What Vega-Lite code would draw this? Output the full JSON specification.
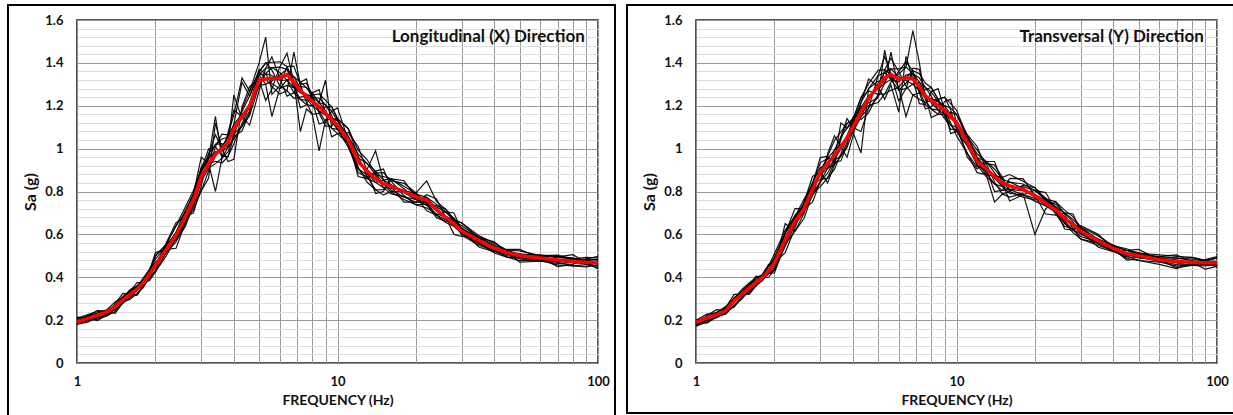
{
"$schema": "https://vega.github.io/schema/vega-lite/v6.json",
"padding": {"left": 6, "top": 3, "right": 0, "bottom": 0},
"background": "white",
"spacing": 8,
"config": {
  "font": "Lato",
  "view": {"stroke": "#1a1a1a", "strokeWidth": 1.5},
  "axis": {"labelFont": "Lato", "labelFontWeight": "bold", "labelFontSize": 13, "labelColor": "#111", "titleFont": "Lato", "titleFontWeight": "bold", "titleColor": "#111", "ticks": false, "domainColor": "#8a8a8a", "gridColor": "#9a9a9a", "gridOpacity": 1}
},
"datasets": {
"X": [
{"f":1,"m":0.19,"a":0.202,"b":0.184,"c":0.196,"d":0.196,"e":0.208,"g":0.181,"h":0.208,"i":0.19,"j":0.214,"k":0.178,"l":0.196,"n":0.184},
{"f":1.1,"m":0.208,"a":0.22,"b":0.196,"c":0.202,"d":0.22,"e":0.217,"g":0.19,"h":0.226,"i":0.199,"j":0.208,"k":0.22,"l":0.211,"n":0.205},
{"f":1.2,"m":0.222,"a":0.228,"b":0.21,"c":0.21,"d":0.234,"e":0.213,"g":0.213,"h":0.24,"i":0.204,"j":0.198,"k":0.246,"l":0.219,"n":0.225},
{"f":1.3,"m":0.238,"a":0.232,"b":0.232,"c":0.226,"d":0.244,"e":0.22,"g":0.247,"h":0.247,"i":0.22,"j":0.226,"k":0.238,"l":0.232,"n":0.244},
{"f":1.4,"m":0.262,"a":0.247,"b":0.27,"c":0.255,"d":0.255,"e":0.251,"g":0.285,"h":0.262,"i":0.24,"j":0.277,"k":0.232,"l":0.255,"n":0.27},
{"f":1.5,"m":0.295,"a":0.28,"b":0.31,"c":0.303,"d":0.28,"e":0.306,"g":0.306,"h":0.284,"i":0.284,"j":0.325,"k":0.28,"l":0.291,"n":0.299},
{"f":1.6,"m":0.32,"a":0.313,"b":0.335,"c":0.335,"d":0.305,"e":0.343,"g":0.309,"h":0.298,"i":0.32,"j":0.32,"k":0.335,"l":0.324,"n":0.316},
{"f":1.7,"m":0.345,"a":0.353,"b":0.353,"c":0.36,"d":0.338,"e":0.356,"g":0.323,"h":0.323,"i":0.356,"j":0.315,"k":0.375,"l":0.353,"n":0.338},
{"f":1.8,"m":0.375,"a":0.39,"b":0.368,"c":0.383,"d":0.383,"e":0.364,"g":0.364,"h":0.353,"i":0.398,"j":0.36,"k":0.375,"l":0.383,"n":0.368},
{"f":1.9,"m":0.415,"a":0.43,"b":0.4,"c":0.408,"d":0.43,"e":0.393,"g":0.426,"h":0.404,"i":0.438,"j":0.43,"k":0.385,"l":0.419,"n":0.411},
{"f":2,"m":0.455,"a":0.47,"b":0.425,"c":0.425,"d":0.485,"e":0.433,"g":0.5,"h":0.455,"i":0.5,"j":0.515,"k":0.425,"l":0.448,"n":0.463},
{"f":2.2,"m":0.53,"a":0.515,"b":0.515,"c":0.5,"d":0.545,"e":0.553,"g":0.553,"h":0.553,"i":0.553,"j":0.53,"k":0.56,"l":0.515,"n":0.545},
{"f":2.4,"m":0.595,"a":0.565,"b":0.61,"c":0.58,"d":0.58,"e":0.64,"g":0.573,"h":0.64,"i":0.595,"j":0.535,"k":0.655,"l":0.58,"n":0.61},
{"f":2.6,"m":0.68,"a":0.65,"b":0.71,"c":0.695,"d":0.65,"e":0.703,"g":0.635,"h":0.725,"i":0.658,"j":0.65,"k":0.68,"l":0.673,"n":0.688},
{"f":2.8,"m":0.76,"a":0.745,"b":0.79,"c":0.79,"d":0.73,"e":0.738,"g":0.738,"h":0.805,"i":0.715,"j":0.79,"k":0.7,"l":0.768,"n":0.753},
{"f":3,"m":0.87,"a":0.893,"b":0.893,"c":0.915,"d":0.848,"e":0.803,"g":0.904,"h":0.904,"i":0.803,"j":0.96,"k":0.825,"l":0.893,"n":0.848},
{"f":3.2,"m":0.93,"a":0.975,"b":0.908,"c":0.953,"d":0.953,"e":0.896,"g":0.998,"h":0.93,"i":0.863,"j":0.93,"k":0.975,"l":0.953,"n":0.908},
{"f":3.4,"m":0.975,"a":1.02,"b":0.93,"c":1.15,"d":1.02,"e":1.009,"g":1.009,"h":0.941,"i":1.12,"j":0.8,"k":1.065,"l":0.986,"n":0.964},
{"f":3.6,"m":1.0,"a":1.023,"b":0.955,"c":0.955,"d":1.045,"e":1.068,"g":0.966,"h":0.933,"i":1.0,"j":0.955,"k":1.0,"l":0.989,"n":1.011},
{"f":3.8,"m":1.03,"a":1.008,"b":1.008,"c":0.985,"d":1.053,"e":1.064,"g":0.963,"h":0.963,"i":1.064,"j":1.075,"k":0.94,"l":1.008,"n":1.053},
{"f":4,"m":1.09,"a":1.045,"b":1.113,"c":1.068,"d":1.068,"e":1.056,"g":1.056,"h":1.023,"i":1.158,"j":1.18,"k":0.95,"l":1.25,"n":1.113},
{"f":4.3,"m":1.15,"a":1.105,"b":1.31,"c":1.173,"d":1.105,"e":1.083,"g":1.184,"h":1.116,"i":1.33,"j":1.15,"k":1.195,"l":1.139,"n":1.161},
{"f":4.6,"m":1.2,"a":1.178,"b":1.245,"c":1.245,"d":1.155,"e":1.166,"g":1.268,"h":1.2,"i":1.268,"j":1.11,"k":1.29,"l":1.211,"n":1.189},
{"f":5,"m":1.32,"a":1.345,"b":1.345,"c":1.37,"d":1.295,"e":1.358,"g":1.4,"h":1.358,"i":1.358,"j":1.27,"k":1.32,"l":1.345,"n":1.295},
{"f":5.3,"m":1.325,"a":1.375,"b":1.3,"c":1.35,"d":1.35,"e":1.4,"g":1.52,"h":1.4,"i":1.325,"j":1.375,"k":1.225,"l":1.35,"n":1.3},
{"f":5.6,"m":1.328,"a":1.378,"b":1.15,"c":1.303,"d":1.378,"e":1.366,"g":1.253,"h":1.403,"i":1.29,"j":1.428,"k":1.278,"l":1.341,"n":1.316},
{"f":6,"m":1.33,"a":1.355,"b":1.28,"c":1.28,"d":1.38,"e":1.293,"g":1.293,"h":1.405,"i":1.255,"j":1.33,"k":1.38,"l":1.318,"n":1.343},
{"f":6.4,"m":1.345,"a":1.32,"b":1.32,"c":1.295,"d":1.37,"e":1.27,"g":1.383,"h":1.383,"i":1.27,"j":1.245,"k":1.445,"l":1.32,"n":1.37},
{"f":6.8,"m":1.31,"a":1.26,"b":1.335,"c":1.285,"d":1.285,"e":1.45,"g":1.385,"h":1.31,"i":1.235,"j":1.26,"k":1.31,"l":1.285,"n":1.335},
{"f":7.2,"m":1.27,"a":1.23,"b":1.31,"c":1.29,"d":1.23,"e":1.3,"g":1.3,"h":1.08,"i":1.24,"j":1.31,"k":1.19,"l":1.26,"n":1.28},
{"f":7.6,"m":1.245,"a":1.225,"b":1.285,"c":1.285,"d":1.205,"e":1.305,"g":1.215,"h":1.185,"i":1.245,"j":1.325,"k":1.205,"l":1.255,"n":1.235},
{"f":8,"m":1.22,"a":1.24,"b":1.24,"c":1.26,"d":1.2,"e":1.25,"g":1.16,"h":1.16,"i":1.25,"j":1.22,"k":1.26,"l":1.24,"n":1.2},
{"f":8.5,"m":1.195,"a":1.235,"b":1.175,"c":1.215,"d":1.215,"e":1.165,"g":1.165,"h":0.99,"i":1.255,"j":1.115,"k":1.275,"l":1.215,"n":1.175},
{"f":9,"m":1.165,"a":1.205,"b":1.125,"c":1.32,"d":1.205,"e":1.105,"g":1.195,"h":1.135,"i":1.225,"j":1.125,"k":1.165,"l":1.175,"n":1.155},
{"f":9.5,"m":1.135,"a":1.155,"b":1.095,"c":1.095,"d":1.175,"e":1.105,"g":1.195,"h":1.135,"i":1.195,"j":1.175,"k":1.055,"l":1.125,"n":1.145},
{"f":10,"m":1.11,"a":1.09,"b":1.09,"c":1.07,"d":1.13,"e":1.14,"g":1.14,"h":1.14,"i":1.14,"j":1.19,"k":1.07,"l":1.09,"n":1.13},
{"f":11,"m":1.04,"a":1.005,"b":1.058,"c":1.023,"d":1.023,"e":1.093,"g":1.014,"h":1.093,"i":1.04,"j":1.04,"k":1.075,"l":1.023,"n":1.058},
{"f":12,"m":0.94,"a":0.905,"b":0.975,"c":0.958,"d":0.905,"e":0.966,"g":0.888,"h":0.993,"i":0.914,"j":0.87,"k":1.01,"l":0.931,"n":0.949},
{"f":13,"m":0.895,"a":0.878,"b":0.93,"c":0.93,"d":0.86,"e":0.869,"g":0.869,"h":0.948,"i":0.843,"j":0.86,"k":0.895,"l":0.904,"n":0.886},
{"f":14,"m":0.86,"a":0.878,"b":0.878,"c":0.895,"d":0.843,"e":0.808,"g":0.886,"h":0.886,"i":0.808,"j":0.895,"k":0.79,"l":0.99,"n":0.843},
{"f":15,"m":0.835,"a":0.87,"b":0.818,"c":0.853,"d":0.853,"e":0.809,"g":0.888,"h":0.835,"i":0.783,"j":0.905,"k":0.8,"l":0.853,"n":0.818},
{"f":16,"m":0.825,"a":0.86,"b":0.79,"c":0.808,"d":0.86,"e":0.851,"g":0.851,"h":0.799,"i":0.799,"j":0.825,"k":0.86,"l":0.834,"n":0.816},
{"f":18,"m":0.8,"a":0.813,"b":0.775,"c":0.775,"d":0.825,"e":0.838,"g":0.781,"h":0.763,"i":0.8,"j":0.75,"k":0.85,"l":0.794,"n":0.806},
{"f":20,"m":0.775,"a":0.763,"b":0.763,"c":0.75,"d":0.788,"e":0.794,"g":0.738,"h":0.738,"i":0.794,"j":0.75,"k":0.775,"l":0.763,"n":0.788},
{"f":22,"m":0.76,"a":0.735,"b":0.773,"c":0.748,"d":0.748,"e":0.741,"g":0.741,"h":0.723,"i":0.85,"j":0.785,"k":0.71,"l":0.748,"n":0.773},
{"f":24,"m":0.715,"a":0.69,"b":0.74,"c":0.728,"d":0.69,"e":0.678,"g":0.734,"h":0.696,"i":0.753,"j":0.765,"k":0.69,"l":0.709,"n":0.721},
{"f":26,"m":0.68,"a":0.668,"b":0.705,"c":0.705,"d":0.655,"e":0.661,"g":0.718,"h":0.68,"i":0.718,"j":0.68,"k":0.705,"l":0.686,"n":0.674},
{"f":28,"m":0.65,"a":0.663,"b":0.663,"c":0.675,"d":0.638,"e":0.669,"g":0.669,"h":0.669,"i":0.669,"j":0.6,"k":0.7,"l":0.663,"n":0.638},
{"f":30,"m":0.615,"a":0.64,"b":0.603,"c":0.628,"d":0.628,"e":0.653,"g":0.596,"h":0.653,"i":0.615,"j":0.59,"k":0.615,"l":0.628,"n":0.603},
{"f":35,"m":0.57,"a":0.585,"b":0.555,"c":0.563,"d":0.585,"e":0.581,"g":0.548,"h":0.593,"i":0.559,"j":0.585,"k":0.54,"l":0.574,"n":0.566},
{"f":40,"m":0.535,"a":0.543,"b":0.52,"c":0.52,"d":0.55,"e":0.524,"g":0.524,"h":0.558,"i":0.513,"j":0.565,"k":0.52,"l":0.531,"n":0.539},
{"f":45,"m":0.515,"a":0.508,"b":0.508,"c":0.5,"d":0.523,"e":0.493,"g":0.526,"h":0.526,"i":0.493,"j":0.515,"k":0.53,"l":0.508,"n":0.523},
{"f":50,"m":0.5,"a":0.485,"b":0.508,"c":0.493,"d":0.493,"e":0.489,"g":0.523,"h":0.5,"i":0.478,"j":0.47,"k":0.53,"l":0.493,"n":0.508},
{"f":60,"m":0.49,"a":0.475,"b":0.505,"c":0.498,"d":0.475,"e":0.501,"g":0.501,"h":0.479,"i":0.479,"j":0.475,"k":0.49,"l":0.486,"n":0.494},
{"f":70,"m":0.48,"a":0.473,"b":0.495,"c":0.495,"d":0.465,"e":0.503,"g":0.469,"h":0.458,"i":0.48,"j":0.495,"k":0.45,"l":0.484,"n":0.476},
{"f":80,"m":0.475,"a":0.483,"b":0.483,"c":0.49,"d":0.468,"e":0.486,"g":0.453,"h":0.453,"i":0.486,"j":0.505,"k":0.46,"l":0.483,"n":0.468},
{"f":90,"m":0.47,"a":0.485,"b":0.463,"c":0.478,"d":0.478,"e":0.459,"g":0.459,"h":0.448,"i":0.493,"j":0.47,"k":0.485,"l":0.478,"n":0.463},
{"f":100,"m":0.468,"a":0.483,"b":0.453,"c":0.461,"d":0.483,"e":0.446,"g":0.479,"h":0.457,"i":0.491,"j":0.438,"k":0.498,"l":0.472,"n":0.464}
],
"Y": [
{"f":1,"m":0.19,"a":0.184,"b":0.184,"c":0.178,"d":0.196,"e":0.172,"g":0.199,"h":0.199,"i":0.172,"j":0.178,"k":0.19,"l":0.184,"n":0.196},
{"f":1.1,"m":0.21,"a":0.198,"b":0.216,"c":0.204,"d":0.204,"e":0.201,"g":0.228,"h":0.21,"i":0.192,"j":0.222,"k":0.186,"l":0.204,"n":0.216},
{"f":1.2,"m":0.225,"a":0.213,"b":0.237,"c":0.231,"d":0.213,"e":0.234,"g":0.234,"h":0.216,"i":0.216,"j":0.249,"k":0.213,"l":0.222,"n":0.228},
{"f":1.3,"m":0.245,"a":0.239,"b":0.257,"c":0.257,"d":0.233,"e":0.263,"g":0.236,"h":0.227,"i":0.245,"j":0.245,"k":0.257,"l":0.248,"n":0.242},
{"f":1.4,"m":0.29,"a":0.298,"b":0.298,"c":0.305,"d":0.283,"e":0.301,"g":0.268,"h":0.268,"i":0.301,"j":0.26,"k":0.32,"l":0.298,"n":0.283},
{"f":1.5,"m":0.32,"a":0.335,"b":0.313,"c":0.328,"d":0.328,"e":0.309,"g":0.309,"h":0.298,"i":0.343,"j":0.305,"k":0.32,"l":0.328,"n":0.313},
{"f":1.6,"m":0.35,"a":0.365,"b":0.335,"c":0.343,"d":0.365,"e":0.328,"g":0.361,"h":0.339,"i":0.373,"j":0.365,"k":0.32,"l":0.354,"n":0.346},
{"f":1.7,"m":0.375,"a":0.383,"b":0.36,"c":0.36,"d":0.39,"e":0.364,"g":0.398,"h":0.375,"i":0.398,"j":0.405,"k":0.36,"l":0.371,"n":0.379},
{"f":1.8,"m":0.4,"a":0.393,"b":0.393,"c":0.385,"d":0.408,"e":0.411,"g":0.411,"h":0.411,"i":0.411,"j":0.4,"k":0.415,"l":0.393,"n":0.408},
{"f":1.9,"m":0.43,"a":0.415,"b":0.438,"c":0.423,"d":0.423,"e":0.453,"g":0.419,"h":0.453,"i":0.43,"j":0.4,"k":0.46,"l":0.423,"n":0.438},
{"f":2,"m":0.465,"a":0.435,"b":0.495,"c":0.48,"d":0.435,"e":0.488,"g":0.42,"h":0.51,"i":0.443,"j":0.435,"k":0.465,"l":0.458,"n":0.473},
{"f":2.2,"m":0.575,"a":0.56,"b":0.605,"c":0.605,"d":0.545,"e":0.553,"g":0.553,"h":0.62,"i":0.65,"j":0.605,"k":0.515,"l":0.583,"n":0.568},
{"f":2.4,"m":0.66,"a":0.675,"b":0.675,"c":0.69,"d":0.645,"e":0.615,"g":0.683,"h":0.683,"i":0.615,"j":0.72,"k":0.63,"l":0.675,"n":0.645},
{"f":2.6,"m":0.72,"a":0.75,"b":0.705,"c":0.735,"d":0.735,"e":0.698,"g":0.765,"h":0.72,"i":0.675,"j":0.72,"k":0.75,"l":0.735,"n":0.705},
{"f":2.8,"m":0.81,"a":0.84,"b":0.78,"c":0.795,"d":0.84,"e":0.833,"g":0.833,"h":0.788,"i":0.788,"j":0.75,"k":0.87,"l":0.818,"n":0.803},
{"f":3,"m":0.89,"a":0.913,"b":0.845,"c":0.845,"d":0.935,"e":0.958,"g":0.856,"h":0.823,"i":0.89,"j":0.845,"k":0.89,"l":0.879,"n":0.901},
{"f":3.2,"m":0.93,"a":0.908,"b":0.908,"c":0.885,"d":0.953,"e":0.964,"g":0.863,"h":0.863,"i":0.964,"j":0.975,"k":0.84,"l":0.908,"n":0.953},
{"f":3.4,"m":0.97,"a":0.925,"b":0.993,"c":0.948,"d":0.948,"e":0.936,"g":0.936,"h":0.903,"i":1.038,"j":1.06,"k":0.925,"l":0.948,"n":0.993},
{"f":3.6,"m":1.01,"a":0.965,"b":1.055,"c":1.12,"d":0.965,"e":0.943,"g":1.044,"h":0.976,"i":1.078,"j":1.01,"k":1.055,"l":0.999,"n":1.021},
{"f":3.8,"m":1.05,"a":1.028,"b":1.095,"c":1.095,"d":1.005,"e":1.016,"g":1.118,"h":1.05,"i":1.118,"j":0.96,"k":1.14,"l":1.061,"n":1.039},
{"f":4,"m":1.1,"a":1.123,"b":1.123,"c":1.145,"d":1.078,"e":1.134,"g":1.134,"h":1.134,"i":1.134,"j":1.055,"k":1.1,"l":1.123,"n":1.078},
{"f":4.3,"m":1.17,"a":1.215,"b":1.148,"c":1.193,"d":0.98,"e":1.238,"g":1.136,"h":1.238,"i":1.17,"j":1.215,"k":1.08,"l":1.193,"n":1.148},
{"f":4.6,"m":1.235,"a":1.28,"b":1.19,"c":1.213,"d":1.28,"e":1.269,"g":1.168,"h":1.303,"i":1.201,"j":1.325,"k":1.19,"l":1.246,"n":1.224},
{"f":5,"m":1.29,"a":1.315,"b":1.24,"c":1.24,"d":1.34,"e":1.253,"g":1.253,"h":1.365,"i":1.215,"j":1.29,"k":1.34,"l":1.278,"n":1.303},
{"f":5.3,"m":1.33,"a":1.305,"b":1.305,"c":1.46,"d":1.355,"e":1.255,"g":1.368,"h":1.368,"i":1.255,"j":1.23,"k":1.43,"l":1.305,"n":1.355},
{"f":5.6,"m":1.347,"a":1.45,"b":1.372,"c":1.322,"d":1.322,"e":1.31,"g":1.422,"h":1.347,"i":1.272,"j":1.297,"k":1.347,"l":1.322,"n":1.372},
{"f":6,"m":1.323,"a":1.273,"b":1.373,"c":1.348,"d":1.273,"e":1.36,"g":1.36,"h":1.286,"i":1.286,"j":1.17,"k":1.223,"l":1.31,"n":1.335},
{"f":6.4,"m":1.33,"a":1.305,"b":1.38,"c":1.38,"d":1.28,"e":1.405,"g":1.293,"h":1.15,"i":1.33,"j":1.43,"k":1.28,"l":1.343,"n":1.318},
{"f":6.8,"m":1.325,"a":1.35,"b":1.35,"c":1.55,"d":1.3,"e":1.363,"g":1.25,"h":1.25,"i":1.363,"j":1.325,"k":1.375,"l":1.35,"n":1.3},
{"f":7.2,"m":1.29,"a":1.33,"b":1.27,"c":1.4,"d":1.31,"e":1.26,"g":1.26,"h":1.23,"i":1.35,"j":1.21,"k":1.37,"l":1.31,"n":1.27},
{"f":7.6,"m":1.245,"a":1.285,"b":1.205,"c":1.225,"d":1.285,"e":1.185,"g":1.275,"h":1.215,"i":1.305,"j":1.205,"k":1.245,"l":1.255,"n":1.235},
{"f":8,"m":1.225,"a":1.245,"b":1.185,"c":1.185,"d":1.265,"e":1.195,"g":1.285,"h":1.225,"i":1.285,"j":1.265,"k":1.145,"l":1.215,"n":1.235},
{"f":8.5,"m":1.2,"a":1.18,"b":1.18,"c":1.16,"d":1.22,"e":1.23,"g":1.23,"h":1.23,"i":1.23,"j":1.28,"k":1.16,"l":1.18,"n":1.22},
{"f":9,"m":1.18,"a":1.14,"b":1.2,"c":1.16,"d":1.16,"e":1.24,"g":1.15,"h":1.24,"i":1.18,"j":1.18,"k":1.22,"l":1.16,"n":1.2},
{"f":9.5,"m":1.15,"a":1.11,"b":1.19,"c":1.17,"d":1.11,"e":1.18,"g":1.09,"h":1.21,"i":1.12,"j":1.07,"k":1.23,"l":1.14,"n":1.16},
{"f":10,"m":1.12,"a":1.1,"b":1.16,"c":1.16,"d":1.08,"e":1.09,"g":1.09,"h":1.18,"i":1.06,"j":1.08,"k":1.12,"l":1.13,"n":1.11},
{"f":11,"m":1.03,"a":1.048,"b":1.048,"c":1.065,"d":1.013,"e":0.978,"g":1.056,"h":1.056,"i":0.978,"j":1.065,"k":0.96,"l":1.048,"n":1.013},
{"f":12,"m":0.94,"a":0.975,"b":0.923,"c":0.958,"d":0.958,"e":0.914,"g":0.993,"h":0.94,"i":0.888,"j":1.01,"k":0.905,"l":0.958,"n":0.923},
{"f":13,"m":0.905,"a":0.94,"b":0.87,"c":0.888,"d":0.94,"e":0.931,"g":0.931,"h":0.879,"i":0.879,"j":0.905,"k":0.94,"l":0.914,"n":0.896},
{"f":14,"m":0.87,"a":0.888,"b":0.835,"c":0.835,"d":0.905,"e":0.923,"g":0.844,"h":0.75,"i":0.87,"j":0.8,"k":0.94,"l":0.861,"n":0.879},
{"f":15,"m":0.84,"a":0.823,"b":0.823,"c":0.805,"d":0.858,"e":0.866,"g":0.788,"h":0.788,"i":0.866,"j":0.805,"k":0.84,"l":0.823,"n":0.858},
{"f":16,"m":0.826,"a":0.791,"b":0.844,"c":0.809,"d":0.809,"e":0.8,"g":0.8,"h":0.774,"i":0.879,"j":0.861,"k":0.756,"l":0.809,"n":0.844},
{"f":18,"m":0.81,"a":0.785,"b":0.835,"c":0.823,"d":0.785,"e":0.773,"g":0.829,"h":0.791,"i":0.848,"j":0.86,"k":0.785,"l":0.804,"n":0.816},
{"f":20,"m":0.78,"a":0.768,"b":0.805,"c":0.805,"d":0.755,"e":0.761,"g":0.818,"h":0.6,"i":0.818,"j":0.78,"k":0.805,"l":0.786,"n":0.774},
{"f":22,"m":0.745,"a":0.758,"b":0.758,"c":0.77,"d":0.733,"e":0.764,"g":0.764,"h":0.72,"i":0.764,"j":0.695,"k":0.795,"l":0.758,"n":0.733},
{"f":24,"m":0.715,"a":0.74,"b":0.703,"c":0.728,"d":0.728,"e":0.753,"g":0.696,"h":0.753,"i":0.715,"j":0.69,"k":0.715,"l":0.728,"n":0.703},
{"f":26,"m":0.675,"a":0.7,"b":0.65,"c":0.663,"d":0.7,"e":0.694,"g":0.638,"h":0.713,"i":0.656,"j":0.7,"k":0.625,"l":0.681,"n":0.669},
{"f":28,"m":0.645,"a":0.658,"b":0.62,"c":0.62,"d":0.67,"e":0.626,"g":0.626,"h":0.683,"i":0.608,"j":0.695,"k":0.62,"l":0.639,"n":0.651},
{"f":30,"m":0.615,"a":0.603,"b":0.603,"c":0.59,"d":0.628,"e":0.578,"g":0.634,"h":0.634,"i":0.578,"j":0.615,"k":0.64,"l":0.603,"n":0.628},
{"f":35,"m":0.57,"a":0.555,"b":0.578,"c":0.563,"d":0.563,"e":0.559,"g":0.593,"h":0.57,"i":0.548,"j":0.54,"k":0.6,"l":0.563,"n":0.578},
{"f":40,"m":0.535,"a":0.52,"b":0.55,"c":0.543,"d":0.52,"e":0.546,"g":0.546,"h":0.524,"i":0.524,"j":0.52,"k":0.535,"l":0.531,"n":0.539},
{"f":45,"m":0.51,"a":0.503,"b":0.525,"c":0.525,"d":0.495,"e":0.533,"g":0.499,"h":0.488,"i":0.51,"j":0.525,"k":0.48,"l":0.514,"n":0.506},
{"f":50,"m":0.5,"a":0.508,"b":0.508,"c":0.515,"d":0.493,"e":0.511,"g":0.478,"h":0.478,"i":0.511,"j":0.53,"k":0.485,"l":0.508,"n":0.493},
{"f":60,"m":0.482,"a":0.497,"b":0.475,"c":0.49,"d":0.49,"e":0.471,"g":0.471,"h":0.46,"i":0.505,"j":0.482,"k":0.497,"l":0.49,"n":0.475},
{"f":70,"m":0.474,"a":0.489,"b":0.459,"c":0.467,"d":0.489,"e":0.452,"g":0.485,"h":0.44,"i":0.497,"j":0.444,"k":0.504,"l":0.478,"n":0.47},
{"f":80,"m":0.47,"a":0.478,"b":0.455,"c":0.455,"d":0.485,"e":0.459,"g":0.493,"h":0.47,"i":0.493,"j":0.455,"k":0.47,"l":0.466,"n":0.474},
{"f":90,"m":0.468,"a":0.461,"b":0.461,"c":0.453,"d":0.476,"e":0.479,"g":0.479,"h":0.479,"i":0.479,"j":0.483,"k":0.438,"l":0.461,"n":0.476},
{"f":100,"m":0.466,"a":0.451,"b":0.474,"c":0.459,"d":0.459,"e":0.489,"g":0.455,"h":0.489,"i":0.466,"j":0.496,"k":0.451,"l":0.459,"n":0.474}
]
},
"hconcat": [
{
  "width": 521, "height": 343,
  "data": {"name": "X"},
  "layer": [
    {
      "data": {"values": [{}]},
      "mark": {"type": "rect", "fill": "transparent", "stroke": "#000", "strokeWidth": 2},
      "encoding": {
        "x": {"datum": 0.5433, "type": "quantitative", "scale": {"type": "log", "domain": [1, 100], "nice": false}},
        "x2": {"datum": 116.2},
        "y": {"datum": 1.67, "type": "quantitative", "scale": {"domain": [0, 1.6], "nice": false, "zero": false}},
        "y2": {"datum": -0.28}
      }
    },
    {
      "transform": [{"fold": ["a","b","c","d","e","g","h","i","j","k","l","n"], "as": ["k", "v"]}],
      "mark": {"type": "line", "color": "#000", "strokeWidth": 1.2, "opacity": 0.92},
      "encoding": {
        "x": {"field": "f", "type": "quantitative", "scale": {"type": "log", "domain": [1, 100], "nice": false},
          "axis": {"values": [1,2,3,4,5,6,7,8,9,10,20,30,40,50,60,70,80,90,100], "tickCount": 100, "format": "~g", "labelExpr": "datum.value == 1 || datum.value == 10 || datum.value == 100 ? datum.label : ''", "labelOverlap": false, "labelFlush": false, "labelPadding": 12, "title": "FREQUENCY (Hz)", "titleFontSize": 14, "titlePadding": 5, "grid": true}},
        "y": {"field": "v", "type": "quantitative", "scale": {"domain": [0, 1.6], "nice": false, "zero": false},
          "axis": {"values": [0,0.04,0.08,0.12,0.16,0.2,0.24,0.28,0.32,0.36,0.4,0.44,0.48,0.52,0.56,0.6,0.64,0.68,0.72,0.76,0.8,0.84,0.88,0.92,0.96,1,1.04,1.08,1.12,1.16,1.2,1.24,1.28,1.32,1.36,1.4,1.44,1.48,1.52,1.56,1.6], "tickCount": 100, "format": "~g", "labelExpr": "abs(datum.value*5 - round(datum.value*5)) < 0.001 ? datum.label : ''", "gridColor": {"condition": {"test": "abs(datum.value*5 - round(datum.value*5)) < 0.001", "value": "#9a9a9a"}, "value": "#dedede"}, "labelOverlap": false, "labelFlush": false, "labelPadding": 14, "title": "Sa (g)", "titleFontSize": 16, "titlePadding": 6, "grid": true}},
        "detail": {"field": "k", "type": "nominal"}
      }
    },
    {
      "mark": {"type": "line", "color": "#ff0000", "strokeWidth": 3.5},
      "encoding": {
        "x": {"field": "f", "type": "quantitative"},
        "y": {"field": "m", "type": "quantitative"}
      }
    },
    {
      "data": {"values": [{}]},
      "mark": {"type": "text", "text": "Longitudinal (X) Direction", "align": "right", "baseline": "middle", "font": "Lato", "fontWeight": "bold", "fontSize": 17, "color": "#111"},
      "encoding": {
        "x": {"datum": 89, "type": "quantitative"},
        "y": {"datum": 1.52, "type": "quantitative"}
      }
    }
  ]
},
{
  "width": 521, "height": 343,
  "data": {"name": "Y"},
  "layer": [
    {
      "data": {"values": [{}]},
      "mark": {"type": "rect", "fill": "transparent", "stroke": "#000", "strokeWidth": 2},
      "encoding": {
        "x": {"datum": 0.5433, "type": "quantitative", "scale": {"type": "log", "domain": [1, 100], "nice": false}},
        "x2": {"datum": 116.2},
        "y": {"datum": 1.67, "type": "quantitative", "scale": {"domain": [0, 1.6], "nice": false, "zero": false}},
        "y2": {"datum": -0.2332}
      }
    },
    {
      "transform": [{"fold": ["a","b","c","d","e","g","h","i","j","k","l","n"], "as": ["k", "v"]}],
      "mark": {"type": "line", "color": "#000", "strokeWidth": 1.2, "opacity": 0.92},
      "encoding": {
        "x": {"field": "f", "type": "quantitative", "scale": {"type": "log", "domain": [1, 100], "nice": false},
          "axis": {"values": [1,2,3,4,5,6,7,8,9,10,20,30,40,50,60,70,80,90,100], "tickCount": 100, "format": "~g", "labelExpr": "datum.value == 1 || datum.value == 10 || datum.value == 100 ? datum.label : ''", "labelOverlap": false, "labelFlush": false, "labelPadding": 12, "title": "FREQUENCY (Hz)", "titleFontSize": 14, "titlePadding": 5, "grid": true}},
        "y": {"field": "v", "type": "quantitative", "scale": {"domain": [0, 1.6], "nice": false, "zero": false},
          "axis": {"values": [0,0.04,0.08,0.12,0.16,0.2,0.24,0.28,0.32,0.36,0.4,0.44,0.48,0.52,0.56,0.6,0.64,0.68,0.72,0.76,0.8,0.84,0.88,0.92,0.96,1,1.04,1.08,1.12,1.16,1.2,1.24,1.28,1.32,1.36,1.4,1.44,1.48,1.52,1.56,1.6], "tickCount": 100, "format": "~g", "labelExpr": "abs(datum.value*5 - round(datum.value*5)) < 0.001 ? datum.label : ''", "gridColor": {"condition": {"test": "abs(datum.value*5 - round(datum.value*5)) < 0.001", "value": "#9a9a9a"}, "value": "#dedede"}, "labelOverlap": false, "labelFlush": false, "labelPadding": 14, "title": "Sa (g)", "titleFontSize": 16, "titlePadding": 6, "grid": true}},
        "detail": {"field": "k", "type": "nominal"}
      }
    },
    {
      "mark": {"type": "line", "color": "#ff0000", "strokeWidth": 3.5},
      "encoding": {
        "x": {"field": "f", "type": "quantitative"},
        "y": {"field": "m", "type": "quantitative"}
      }
    },
    {
      "data": {"values": [{}]},
      "mark": {"type": "text", "text": "Transversal (Y) Direction", "align": "right", "baseline": "middle", "font": "Lato", "fontWeight": "bold", "fontSize": 17, "color": "#111"},
      "encoding": {
        "x": {"datum": 89, "type": "quantitative"},
        "y": {"datum": 1.52, "type": "quantitative"}
      }
    }
  ]
}
]
}
